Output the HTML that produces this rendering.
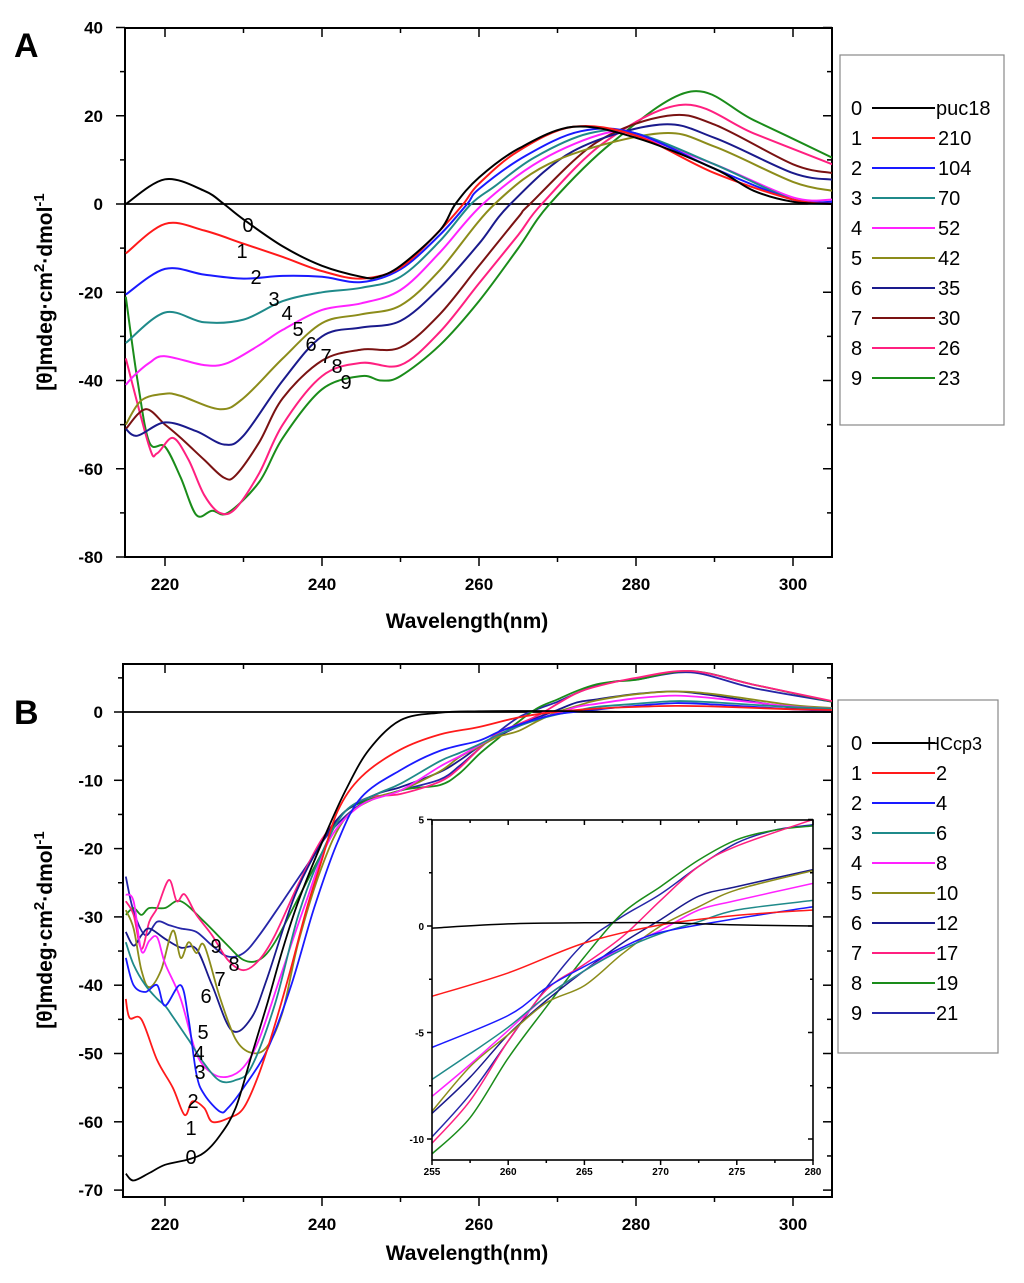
<!DOCTYPE html>
<html><head><meta charset="utf-8"><style>
html,body{margin:0;padding:0;background:#fff;overflow:hidden;width:1024px;height:1283px;}
body{position:relative;}
svg{display:block;position:absolute;left:0;top:0;}
svg text{font-family:"Liberation Sans",Arial,sans-serif;}
.tk{font-weight:bold;font-size:17px;}
.ttl{font-weight:bold;font-size:21px;}
.lg{font-size:20px;}
.cl{font-size:20px;}
.itk{font-weight:bold;font-size:10px;}
</style></head><body>
<svg id="chart" width="1024" height="1283" viewBox="0 0 1024 1283" xmlns="http://www.w3.org/2000/svg">
<defs>
<clipPath id="clipA"><rect x="125" y="28" width="707" height="529"/></clipPath>
<clipPath id="clipB"><rect x="123" y="664" width="709" height="533"/></clipPath>
<clipPath id="clipI"><rect x="432" y="820" width="381" height="340"/></clipPath>
</defs>
<g id="gA"></g>
<g id="gB"></g>
</svg>
<script>
// ---------- Panel A data ----------
const aCategories=["puc18","210","104","70","52","42","35","30","26","23"];
const A0_x=[215,220,225,227.5,230,235,240,245,247,250,255,257,260,265,272,280,290,295,300,305];
const A0_y=[0,5.6,3,0,-3.5,-9.6,-14,-16.5,-16.6,-14,-6,0,6,12.5,17.5,15,8,3,0.5,0];
const A1_x=[215,220,225,230,235,240,245,250,255,258,260,265,272,280,290,300,305];
const A1_y=[-11.2,-4.5,-6,-9,-12,-15.2,-16.9,-14.4,-6,0,4.6,12,17.5,15.5,7,1,0];
const A2_x=[215,220,225,230,235,240,245,250,255,258.5,260,266,273,280,290,300,305];
const A2_y=[-20.5,-14.7,-16,-16.9,-16.3,-16.5,-17.7,-14.8,-7,0,3.4,11,16.5,16,8,1,0.5];
const A3_x=[215,220,225,230,235,240,245,250,255,259,262,267,274,280,290,300,305];
const A3_y=[-31.5,-24.6,-26.8,-26.2,-22,-20,-19,-16.5,-8.4,0,4,10.5,16,16,9,1,0];
const A4_x=[215,216,218,220,225,228,232,235,240,245,250,255,260.5,268,276,280,290,300,305];
const A4_y=[-41,-39,-36,-34.5,-36.5,-36,-32,-28.5,-24,-22.5,-19.5,-11,0,10,16,15.5,9,1.5,1];
const A5_x=[215,217,220,222,227,230,235,240,245,250,255,262,270,283,290,300,305];
const A5_y=[-50,-44.5,-43,-43.5,-46.5,-44,-35,-27,-25,-23,-15,0,10,16,13,5,3];
const A6_x=[215,216.5,220,224,227.5,230,235,240,245,250,255,260,264,272,283,290,300,305];
const A6_y=[-51,-52.5,-49.5,-51.5,-54.5,-52.5,-40,-30,-28,-26.5,-19,-9,0,12,18,15,7,5.5];
const A7_x=[215,217.5,220,222,225,227.5,229,232,235,240,245,250,255,260,265,266.5,275,284,290,300,305];
const A7_y=[-51,-46.5,-50,-53,-58,-62,-61.5,-54,-44,-35.5,-33,-32.5,-25,-14,-3,0,14,20,18,9,7];
const A8_x=[215,218,219,221,223,225,227,229,232,235,240,245,250,255,260,265,268,276,286,295,305];
const A8_y=[-35,-55,-56.5,-53,-58,-66,-70,-69,-61,-50,-39,-36,-36.5,-29,-18,-7,0,14,22.5,16,9];
const A9_x=[215,216.5,218,220,222,224,226,228,232,235,240,245,247.5,250,255,260,265,269,277,287,295,305];
const A9_y=[-21,-40,-54,-55,-62,-70.5,-69.5,-70,-63,-53,-42,-39,-40,-39,-32,-22,-10,0,14,25.5,19,10.5];
const aXTicks=[220,240,260,280,300];
const aYTicks=[40,20,0,-20,-40,-60,-80];

// ---------- Panel B data ----------
const bCategories=["HCcp3","2","4","6","8","10","12","17","19","21"];
const B0_x=[215,216,218,220,223,225,227,229,231,233,235,237,240,243,246,250,255,260,265,270,275,280,290,305];
const B0_y=[-67.6,-68.6,-67.5,-66.3,-65.5,-64.5,-62,-58,-50.4,-42.8,-34.7,-27.7,-19.1,-11.5,-5.5,-1.2,-0.1,0.1,0.15,0.15,0.05,0,0,0];
const B1_x=[215,215.5,217,219,221,222.5,223.5,225,226,228,230,232,234,236,238,240,242,245,250,255,260,265,270,275,280,285,290,300,305];
const B1_y=[-42,-44.8,-45,-51,-55,-59,-57,-58,-60,-59.5,-58,-52.9,-45.8,-37.7,-29,-21.6,-14.5,-9.5,-5.5,-3.3,-2.2,-0.8,0.05,0.5,0.75,0.9,0.8,0.4,0.3];
const B2_x=[215,216,217.5,219,220,222,223,224,225,227,228,230,233,236,239,242,245,250,255,260,262.5,265,267.5,270,275,280,285,290,300,305];
const B2_y=[-36,-40,-41,-40,-43,-40,-45,-53,-56,-58.5,-58,-55,-49.5,-40.3,-28.7,-19,-12.5,-8.5,-5.7,-4.2,-2.9,-1.9,-1,-0.3,0.35,0.9,1.3,1.1,0.4,0.2];
const B3_x=[215,216,217.5,219,220,221,223,225,227,229,231,234,237,240,243,247,250,255,257.5,260,262.5,265,267.5,270,272.5,275,280,285,290,300,305];
const B3_y=[-33.7,-37,-40,-42,-43,-44.6,-48,-51.5,-54,-53.9,-52,-42.8,-29.7,-20.6,-14.5,-12,-10.5,-7.2,-6,-4.75,-3.3,-2.1,-1.1,-0.35,0.2,0.75,1.2,1.6,1.4,0.7,0.5];
const B4_x=[215,216,217,218,219,220,222,224,226,228,230,232,235,238,241,245,250,255,257.5,260,262.5,265,267.5,270,272.5,275,280,285,290,300,305];
const B4_y=[-26.7,-27.7,-35,-33.5,-33,-36.8,-42,-50,-52.9,-53.4,-52,-47.9,-37.7,-27.7,-18.6,-13.6,-11.5,-8,-6.5,-4.9,-3.3,-2.1,-1,-0.2,0.75,1.2,2,2.4,2,0.8,0.5];
const B5_x=[215,216,217,218,219.5,221,222,223,224,225,227,229,231,233,235,237,240,243,247,250,255,257.5,260,262.5,265,267.5,270,272.5,275,280,285,290,300,305];
const B5_y=[-29,-31.7,-37.8,-40.3,-37.8,-32,-36,-33.7,-35.3,-34.2,-41.8,-47.9,-49.9,-49,-43.8,-33.7,-22.6,-15.5,-12.5,-11.5,-8.7,-6.6,-5.1,-3.6,-2.8,-1.3,0,0.9,1.7,2.6,3,2.6,1,0.6];
const B6_x=[215,216,217,218,220,222,224,226,228.5,231,233,236.5,240,243,247,250,255,257.5,260,262.5,265,267.5,270,272.5,275,280,285,290,300,305];
const B6_y=[-32.2,-34.2,-32.7,-31.7,-33.2,-34.5,-34.7,-40,-46.6,-44.8,-39,-27,-19,-14.5,-12,-11,-8.8,-7.1,-5.1,-3.5,-2.1,-0.8,0.3,1.4,1.85,2.65,3,2.4,0.6,0.2];
const B7_x=[215,216,217,218,219,220.5,221.5,222.5,224,226,228,230,232,234,237,240,243,246,250,255,257.5,260,262.5,265,267.5,270,272.5,275,280,287,295,305];
const B7_y=[-27.7,-29.7,-34.7,-30.7,-28.7,-24.6,-27.7,-26.7,-29.7,-32.7,-36.3,-37.8,-36.3,-32.7,-25.2,-18.6,-14.5,-12.5,-12,-10.2,-8.2,-5.4,-3,-1.8,-0.5,1.2,2.8,3.75,5,6,4,1.6];
const B8_x=[215,216,217,218,220,222,225,228,230,232,234,237,240,243,250,255,257.5,260,262.5,265,267.5,270,272.5,275,277.5,280,287,295,305];
const B8_y=[-29.7,-28.7,-29.7,-28.7,-28.7,-27.7,-30.7,-34.2,-36.3,-36.3,-33.7,-27.2,-20.6,-14.5,-11.5,-10.7,-9,-6.2,-3.8,-1.45,0.6,1.85,3.1,4.05,4.5,4.7,6,4,1.5];
const B9_x=[215,216,217.5,219,220.5,222,224,226,228,230,232,235,238,241,245,250,255,257.5,260,262.5,265,267.5,270,272.5,275,277.5,280,287,295,305];
const B9_y=[-24.1,-29.2,-32.7,-30.7,-31.2,-31.7,-32.2,-34.2,-35.8,-35.3,-32.7,-27.7,-22.6,-17.6,-13.5,-11.5,-9.9,-7.9,-5.4,-2.9,-0.8,0.45,1.5,2.8,3.9,4.5,4.75,5.8,3.5,1.5];
const bXTicks=[220,240,260,280,300];
const bYTicks=[0,-10,-20,-30,-40,-50,-60,-70];
const iXTicks=[255,260,265,270,275,280];
const iYTicks=[5,0,-5,-10];

const colorsA=["#000000","#ff1a1a","#1a1aff","#1f8a8a","#ff22ff","#8c8c1a","#1a1a8c","#7a1212","#ff2080","#1a8c1a"];
const colorsB=["#000000","#ff1a1a","#1a1aff","#1f8a8a","#ff22ff","#8c8c1a","#1a1a8c","#ff2080","#1a8c1a","#2626a8"];
const AX=[A0_x,A1_x,A2_x,A3_x,A4_x,A5_x,A6_x,A7_x,A8_x,A9_x];
const AY=[A0_y,A1_y,A2_y,A3_y,A4_y,A5_y,A6_y,A7_y,A8_y,A9_y];
const BX=[B0_x,B1_x,B2_x,B3_x,B4_x,B5_x,B6_x,B7_x,B8_x,B9_x];
const BY=[B0_y,B1_y,B2_y,B3_y,B4_y,B5_y,B6_y,B7_y,B8_y,B9_y];

const NS="http://www.w3.org/2000/svg";
function mk(parent,tag,attrs,text){const e=document.createElementNS(NS,tag);for(const k in attrs)e.setAttribute(k,attrs[k]);if(text!==undefined)e.textContent=text;parent.appendChild(e);return e;}
const xA=w=>165+(w-220)*7.85;
const yA=v=>204-v*4.4125;
const xB=w=>165+(w-220)*7.85;
const yB=v=>712-v*6.83;
const xI=w=>432+(w-255)*15.24;
const yI=v=>926-v*21.3;

function smoothPath(xs,ys,fx,fy){
  const p=xs.map((x,i)=>[fx(x),fy(ys[i])]);
  let d="M"+p[0][0].toFixed(1)+","+p[0][1].toFixed(1);
  for(let i=0;i<p.length-1;i++){
    const p0=p[i-1]||p[i],p1=p[i],p2=p[i+1],p3=p[i+2]||p2;
    const c1=[p1[0]+(p2[0]-p0[0])/6,p1[1]+(p2[1]-p0[1])/6];
    const c2=[p2[0]-(p3[0]-p1[0])/6,p2[1]-(p3[1]-p1[1])/6];
    d+=" C"+c1[0].toFixed(1)+","+c1[1].toFixed(1)+" "+c2[0].toFixed(1)+","+c2[1].toFixed(1)+" "+p2[0].toFixed(1)+","+p2[1].toFixed(1);
  }
  return d;
}

function frame(g,L,T,R,Bm,xt,xminor,yt,yminor,fx,fy,big){
  const r=mk(g,"rect",{x:L,y:T,width:R-L,height:Bm-T,fill:"none",stroke:"#000","stroke-width":big?2:1.6});
  
  
  const ml=big?9:5, mn=big?5:3;
  xminor.forEach(w=>{const x=fx(w);const isM=xt.includes(w);const l=isM?ml:mn;
    mk(g,"line",{x1:x,x2:x,y1:Bm,y2:Bm+l,stroke:"#000","stroke-width":1.5});
    mk(g,"line",{x1:x,x2:x,y1:T,y2:T+l,stroke:"#000","stroke-width":1.5});});
  yminor.forEach(v=>{const y=fy(v);const isM=yt.includes(v);const l=isM?ml:mn;
    mk(g,"line",{x1:L-l,x2:L,y1:y,y2:y,stroke:"#000","stroke-width":1.5});
    mk(g,"line",{x1:R-l,x2:R,y1:y,y2:y,stroke:"#000","stroke-width":1.5});});
}

// ---------- Panel A ----------
const gA=document.getElementById("gA");
{
  const minorX=[];for(let w=220;w<=300;w+=10)minorX.push(w);
  const minorY=[];for(let v=40;v>=-80;v-=10)minorY.push(v);
  frame(gA,125,28,832,557,aXTicks,minorX,aYTicks,minorY,xA,yA,true);
  aXTicks.forEach(w=>{const t=mk(gA,"text",{x:xA(w),y:590,"text-anchor":"middle",class:"tk"},String(w));
    
    });
  aYTicks.forEach(v=>{const t=mk(gA,"text",{x:103,y:yA(v)+6,"text-anchor":"end",class:"tk"},String(v));
    
    });
  const z=mk(gA,"line",{x1:125,x2:832,y1:yA(0),y2:yA(0),stroke:"#000","stroke-width":1.8});
  
  
  const cg=mk(gA,"g",{"clip-path":"url(#clipA)"});
  for(let i=9;i>=0;i--){
    const p=mk(cg,"path",{d:smoothPath(AX[i],AY[i],xA,yA),fill:"none",stroke:colorsA[i],"stroke-width":2});
    
    
  }
  const lblPos=[[248,232],[242,258],[256,284],[274,306],[287,320],[298,336],[311,351],[326,363],[337,373],[346,389]];
  lblPos.forEach((p,i)=>{const t=mk(gA,"text",{x:p[0],y:p[1],"text-anchor":"middle",class:"cl"},String(i));
    
    });
  const xt=mk(gA,"text",{x:467,y:628,"text-anchor":"middle",class:"ttl"},"Wavelength(nm)");
  
  
  const yt=mk(gA,"text",{transform:"translate(52,292) rotate(-90)","text-anchor":"middle",class:"ttl"});
  yt.innerHTML='[θ]mdeg·cm<tspan dy="-8" font-size="15">2</tspan><tspan dy="8">·dmol</tspan><tspan dy="-8" font-size="15">-1</tspan>';
  
  
  const pl=mk(gA,"text",{x:14,y:57,style:"font-weight:bold;font-size:34px"},"A");
  
  
  const lb=mk(gA,"rect",{x:840,y:55,width:164,height:370,fill:"#fff",stroke:"#888","stroke-width":1.2});
  
  
  aCategories.forEach((c,i)=>{const y=108+i*30;
    const g=mk(gA,"g",{});
    
    
    mk(g,"text",{x:851,y:y+7,class:"lg"},String(i));
    mk(g,"line",{x1:872,x2:935,y1:y,y2:y,stroke:colorsA[i],"stroke-width":2});
    mk(g,"text",{x:i===0?936:938,y:y+7,class:"lg"},c);});
}

// ---------- Panel B ----------
const gB=document.getElementById("gB");
{
  const minorX=[];for(let w=220;w<=300;w+=10)minorX.push(w);
  const minorY=[];for(let v=5;v>=-70;v-=5)minorY.push(v);
  frame(gB,123,664,832,1197,bXTicks,minorX,bYTicks,minorY,xB,yB,true);
  bXTicks.forEach(w=>{const t=mk(gB,"text",{x:xB(w),y:1230,"text-anchor":"middle",class:"tk"},String(w));
    
    });
  bYTicks.forEach(v=>{const t=mk(gB,"text",{x:103,y:yB(v)+6,"text-anchor":"end",class:"tk"},String(v));
    
    });
  const z=mk(gB,"line",{x1:123,x2:832,y1:yB(0),y2:yB(0),stroke:"#000","stroke-width":1.8});
  
  
  const cg=mk(gB,"g",{"clip-path":"url(#clipB)"});
  for(let i=9;i>=0;i--){
    const p=mk(cg,"path",{d:smoothPath(BX[i],BY[i],xB,yB),fill:"none",stroke:colorsB[i],"stroke-width":1.8});
    
    
  }
  const ir=mk(gB,"rect",{x:432,y:820,width:381,height:340,fill:"#fff"});
  
  
  const ig=mk(gB,"g",{});
  
  
  const iMinX=[];for(let w=255;w<=280;w+=2.5)iMinX.push(w);
  const iMinY=[];for(let v=5;v>=-10;v-=2.5)iMinY.push(v);
  const icg=mk(ig,"g",{"clip-path":"url(#clipI)"});
  for(let i=9;i>=0;i--){
    const xs=[],ys=[];
    BX[i].forEach((w,k)=>{if(w>=254&&w<=281){xs.push(w);ys.push(BY[i][k]);}});
    const p=mk(icg,"path",{d:smoothPath(xs,ys,xI,yI),fill:"none",stroke:colorsB[i],"stroke-width":1.5});
    
    
  }
  frame(ig,432,820,813,1160,iXTicks,iMinX,iYTicks,iMinY,xI,yI,false);
  iXTicks.forEach(w=>{const t=mk(ig,"text",{x:xI(w),y:1175,"text-anchor":"middle",class:"itk"},String(w));
    
    });
  iYTicks.forEach(v=>{const t=mk(ig,"text",{x:424,y:yI(v)+4,"text-anchor":"end",class:"itk"},String(v));
    
    });
  const lblPos=[[191,1164],[191,1135],[193,1108],[200,1079],[199,1060],[203,1039],[206,1003],[220,986],[234,971],[216,953]];
  lblPos.forEach((p,i)=>{const t=mk(gB,"text",{x:p[0],y:p[1],"text-anchor":"middle",class:"cl"},String(i));
    
    });
  const xt=mk(gB,"text",{x:467,y:1260,"text-anchor":"middle",class:"ttl"},"Wavelength(nm)");
  
  
  const yt=mk(gB,"text",{transform:"translate(52,930) rotate(-90)","text-anchor":"middle",class:"ttl"});
  yt.innerHTML='[θ]mdeg·cm<tspan dy="-8" font-size="15">2</tspan><tspan dy="8">·dmol</tspan><tspan dy="-8" font-size="15">-1</tspan>';
  
  
  const pl=mk(gB,"text",{x:14,y:724,style:"font-weight:bold;font-size:34px"},"B");
  
  
  const lb=mk(gB,"rect",{x:838,y:700,width:160,height:353,fill:"#fff",stroke:"#888","stroke-width":1.2});
  
  
  bCategories.forEach((c,i)=>{const y=743+i*30;
    const g=mk(gB,"g",{});
    
    
    mk(g,"text",{x:851,y:y+7,class:"lg"},String(i));
    mk(g,"line",{x1:872,x2:935,y1:y,y2:y,stroke:colorsB[i],"stroke-width":2});
    mk(g,"text",{x:i===0?927:936,y:y+7,class:"lg",style:i===0?"font-size:18px":""},c);});
}
</script>
</body></html>
